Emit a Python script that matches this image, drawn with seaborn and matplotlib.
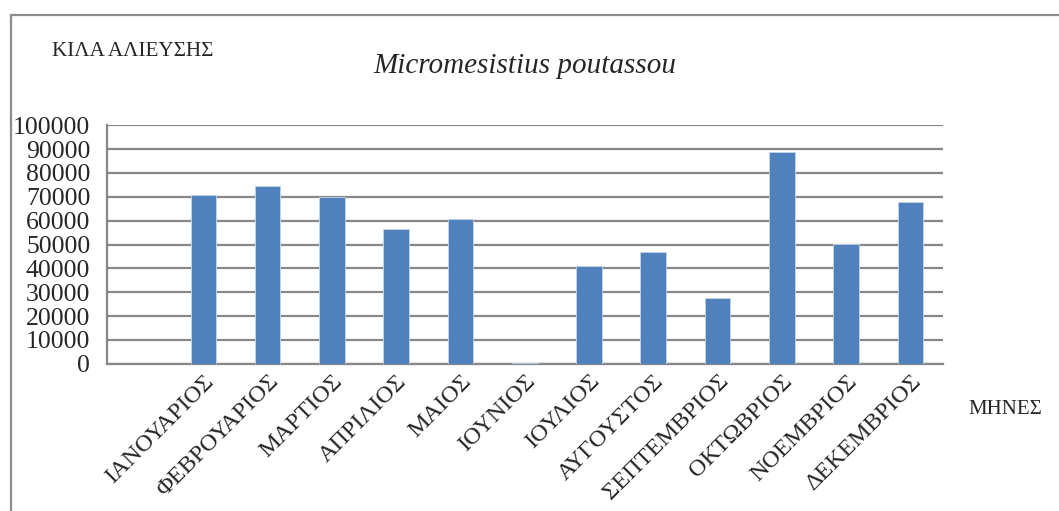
import pandas as pd
import matplotlib.pyplot as plt
import seaborn as sns
from matplotlib.patches import Rectangle
from matplotlib.ticker import FixedLocator
from matplotlib.transforms import ScaledTranslation

months = ["ΙΑΝΟΥΑΡΙΟΣ", "ΦΕΒΡΟΥΑΡΙΟΣ", "ΜΑΡΤΙΟΣ", "ΑΠΡΙΛΙΟΣ", "ΜΑΙΟΣ", "ΙΟΥΝΙΟΣ",
          "ΙΟΥΛΙΟΣ", "ΑΥΓΟΥΣΤΟΣ", "ΣΕΠΤΕΜΒΡΙΟΣ", "ΟΚΤΩΒΡΙΟΣ", "ΝΟΕΜΒΡΙΟΣ", "ΔΕΚΕΜΒΡΙΟΣ"]
kilos = [70700, 74600, 70000, 56700, 60700, 300, 41200, 46700, 27400, 88600, 50400, 67800]
yticks = [0, 10000, 20000, 30000, 40000, 50000, 60000, 70000, 80000, 90000, 100000]

df = pd.DataFrame({"month": months, "kilos": kilos})

sns.set_style("white")
plt.rcParams['font.family'] = ['Liberation Serif', 'DejaVu Serif']

fig = plt.figure(figsize=(10.59, 5.11), dpi=100)
ax = fig.add_axes([0.101, 0.288, 0.789, 0.467])

grey = "#878787"
sns.barplot(data=df, x="month", y="kilos", color="#4F81BD", width=0.4,
            saturation=1, edgecolor="#c5d5ea", linewidth=0.6, ax=ax, zorder=3)

ax.set_xlim(-1.5, len(months) - 0.5)
ax.set_ylim(0, 100000)
ax.set_yticks(yticks)
ax.set_yticklabels([str(v) for v in yticks], fontsize=18.5)
ax.yaxis.grid(True, color=grey, linewidth=1.6, zorder=0)
ax.set_axisbelow(True)

ax.set_xticks(range(len(months)))
ax.set_xticklabels(months, rotation=45, ha="right", rotation_mode="anchor", fontsize=17.5)
# nudge the rotated labels a bit left so they end under the bars
shift = ScaledTranslation(-7 / 100, -2 / 100, fig.dpi_scale_trans)
for lab in ax.get_xticklabels():
    lab.set_transform(lab.get_transform() + shift)
ax.xaxis.set_minor_locator(FixedLocator([i - 0.5 for i in range(-1, len(months) + 1)]))
ax.tick_params(axis="x", which="major", length=0, pad=5)
ax.tick_params(axis="x", which="minor", length=6, width=1.4, color=grey, direction="out")
ax.tick_params(axis="y", length=7, width=1.6, color=grey, pad=5)
ax.set_xlabel("")
ax.set_ylabel("")

for side in ["top", "right"]:
    ax.spines[side].set_visible(False)
for side in ["left", "bottom"]:
    ax.spines[side].set_color(grey)
    ax.spines[side].set_linewidth(1.6)

fig.text(52 / 1059, 1 - 52 / 511, "ΚΙΛΑ ΑΛΙΕΥΣΗΣ", fontsize=15.2, va="center", ha="left")
fig.text(525 / 1059, 1 - 66 / 511, "Micromesistius poutassou", fontsize=21,
         style="italic", va="center", ha="center")
fig.text(968 / 1059, 1 - 410 / 511, "ΜΗΝΕΣ", fontsize=15, va="center", ha="left")

fig.patches.append(Rectangle((11 / 1059, -0.2), 1.2, 1.2 - 15 / 511,
                             transform=fig.transFigure, fill=False,
                             edgecolor="#8c8c8c", linewidth=1.6))

fig.savefig("out.png", dpi=100)
